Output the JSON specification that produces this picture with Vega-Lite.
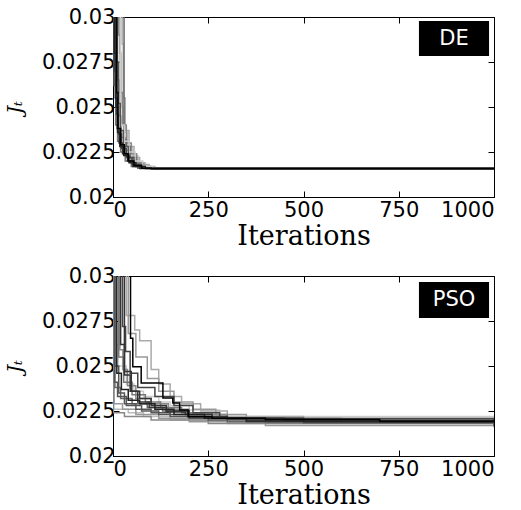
{
  "$schema": "https://vega.github.io/schema/vega-lite/v6.json",
  "background": "white",
  "padding": 5,
  "spacing": 14,
  "config": {
    "view": {"stroke": "black", "strokeWidth": 1},
    "font": "DejaVu Sans",
    "axis": {
      "grid": false, "domainColor": "black", "tickColor": "black", "labelColor": "black", "titleColor": "black",
      "labelFont": "DejaVu Sans", "labelFontSize": 21, "tickSize": -6, "titleFontWeight": "normal"
    }
  },
  "datasets": {
    "curves": [
      {"method":"DE","run":"D01","it":0,"jt":0.04},{"method":"DE","run":"D01","it":18,"jt":0.028},{"method":"DE","run":"D01","it":22,"jt":0.025},{"method":"DE","run":"D01","it":28,"jt":0.0236},{"method":"DE","run":"D01","it":38,"jt":0.0228},{"method":"DE","run":"D01","it":50,"jt":0.0223},{"method":"DE","run":"D01","it":65,"jt":0.0219},{"method":"DE","run":"D01","it":85,"jt":0.0217},{"method":"DE","run":"D01","it":110,"jt":0.02158},{"method":"DE","run":"D01","it":1000,"jt":0.02157},
      {"method":"DE","run":"D02","it":0,"jt":0.04},{"method":"DE","run":"D02","it":12,"jt":0.0265},{"method":"DE","run":"D02","it":16,"jt":0.0245},{"method":"DE","run":"D02","it":22,"jt":0.0233},{"method":"DE","run":"D02","it":32,"jt":0.0226},{"method":"DE","run":"D02","it":45,"jt":0.0221},{"method":"DE","run":"D02","it":65,"jt":0.0217},{"method":"DE","run":"D02","it":90,"jt":0.02158},{"method":"DE","run":"D02","it":1000,"jt":0.02157},
      {"method":"DE","run":"D03","it":0,"jt":0.04},{"method":"DE","run":"D03","it":24,"jt":0.0285},{"method":"DE","run":"D03","it":27,"jt":0.0255},{"method":"DE","run":"D03","it":32,"jt":0.0237},{"method":"DE","run":"D03","it":42,"jt":0.0228},{"method":"DE","run":"D03","it":55,"jt":0.0222},{"method":"DE","run":"D03","it":70,"jt":0.0218},{"method":"DE","run":"D03","it":95,"jt":0.0216},{"method":"DE","run":"D03","it":1000,"jt":0.02157},
      {"method":"DE","run":"D04","it":0,"jt":0.04},{"method":"DE","run":"D04","it":15,"jt":0.029},{"method":"DE","run":"D04","it":19,"jt":0.0258},{"method":"DE","run":"D04","it":25,"jt":0.024},{"method":"DE","run":"D04","it":35,"jt":0.023},{"method":"DE","run":"D04","it":48,"jt":0.0224},{"method":"DE","run":"D04","it":62,"jt":0.0219},{"method":"DE","run":"D04","it":80,"jt":0.0217},{"method":"DE","run":"D04","it":100,"jt":0.02158},{"method":"DE","run":"D04","it":1000,"jt":0.02157},
      {"method":"DE","run":"D05","it":0,"jt":0.04},{"method":"DE","run":"D05","it":3,"jt":0.0262},{"method":"DE","run":"D05","it":7,"jt":0.024},{"method":"DE","run":"D05","it":12,"jt":0.0231},{"method":"DE","run":"D05","it":20,"jt":0.0225},{"method":"DE","run":"D05","it":32,"jt":0.022},{"method":"DE","run":"D05","it":48,"jt":0.0217},{"method":"DE","run":"D05","it":65,"jt":0.0216},{"method":"DE","run":"D05","it":1000,"jt":0.02157},
      {"method":"DE","run":"D06","it":0,"jt":0.04},{"method":"DE","run":"D06","it":29,"jt":0.0232},{"method":"DE","run":"D06","it":35,"jt":0.0228},{"method":"DE","run":"D06","it":45,"jt":0.0222},{"method":"DE","run":"D06","it":60,"jt":0.0218},{"method":"DE","run":"D06","it":80,"jt":0.0216},{"method":"DE","run":"D06","it":110,"jt":0.02157},{"method":"DE","run":"D06","it":1000,"jt":0.02157},
      {"method":"DE","run":"D07","it":0,"jt":0.04},{"method":"DE","run":"D07","it":20,"jt":0.024},{"method":"DE","run":"D07","it":30,"jt":0.0231},{"method":"DE","run":"D07","it":42,"jt":0.0225},{"method":"DE","run":"D07","it":58,"jt":0.022},{"method":"DE","run":"D07","it":78,"jt":0.0217},{"method":"DE","run":"D07","it":105,"jt":0.02158},{"method":"DE","run":"D07","it":1000,"jt":0.02157},
      {"method":"DE","run":"D08","it":0,"jt":0.04},{"method":"DE","run":"D08","it":10,"jt":0.0275},{"method":"DE","run":"D08","it":14,"jt":0.0252},{"method":"DE","run":"D08","it":19,"jt":0.0237},{"method":"DE","run":"D08","it":27,"jt":0.0228},{"method":"DE","run":"D08","it":40,"jt":0.0222},{"method":"DE","run":"D08","it":55,"jt":0.0218},{"method":"DE","run":"D08","it":75,"jt":0.0216},{"method":"DE","run":"D08","it":1000,"jt":0.02157},
      {"method":"DE","run":"D09","it":0,"jt":0.04},{"method":"DE","run":"D09","it":5,"jt":0.027},{"method":"DE","run":"D09","it":9,"jt":0.0246},{"method":"DE","run":"D09","it":14,"jt":0.0235},{"method":"DE","run":"D09","it":22,"jt":0.0227},{"method":"DE","run":"D09","it":35,"jt":0.0222},{"method":"DE","run":"D09","it":50,"jt":0.0218},{"method":"DE","run":"D09","it":70,"jt":0.0216},{"method":"DE","run":"D09","it":1000,"jt":0.02157},
      {"method":"DE","run":"D10","it":0,"jt":0.04},{"method":"DE","run":"D10","it":6,"jt":0.0255},{"method":"DE","run":"D10","it":11,"jt":0.0238},{"method":"DE","run":"D10","it":16,"jt":0.023},{"method":"DE","run":"D10","it":25,"jt":0.0224},{"method":"DE","run":"D10","it":38,"jt":0.022},{"method":"DE","run":"D10","it":52,"jt":0.0217},{"method":"DE","run":"D10","it":70,"jt":0.02159},{"method":"DE","run":"D10","it":1000,"jt":0.02157},
      {"method":"DE","run":"D11","it":0,"jt":0.04},{"method":"DE","run":"D11","it":4,"jt":0.028},{"method":"DE","run":"D11","it":8,"jt":0.025},{"method":"DE","run":"D11","it":12,"jt":0.0236},{"method":"DE","run":"D11","it":18,"jt":0.0228},{"method":"DE","run":"D11","it":28,"jt":0.0223},{"method":"DE","run":"D11","it":42,"jt":0.0219},{"method":"DE","run":"D11","it":60,"jt":0.0217},{"method":"DE","run":"D11","it":85,"jt":0.02158},{"method":"DE","run":"D11","it":1000,"jt":0.02157},
      {"method":"DE","run":"D12","it":0,"jt":0.04},{"method":"DE","run":"D12","it":8,"jt":0.03},{"method":"DE","run":"D12","it":10,"jt":0.0258},{"method":"DE","run":"D12","it":13,"jt":0.0238},{"method":"DE","run":"D12","it":20,"jt":0.0229},{"method":"DE","run":"D12","it":30,"jt":0.0224},{"method":"DE","run":"D12","it":40,"jt":0.022},{"method":"DE","run":"D12","it":55,"jt":0.02175},{"method":"DE","run":"D12","it":75,"jt":0.0216},{"method":"DE","run":"D12","it":100,"jt":0.02157},{"method":"DE","run":"D12","it":1000,"jt":0.02157},

      {"method":"PSO","run":"P01","it":0,"jt":0.04},{"method":"PSO","run":"P01","it":6,"jt":0.0262},{"method":"PSO","run":"P01","it":14,"jt":0.025},{"method":"PSO","run":"P01","it":35,"jt":0.024},{"method":"PSO","run":"P01","it":55,"jt":0.0236},{"method":"PSO","run":"P01","it":80,"jt":0.0233},{"method":"PSO","run":"P01","it":120,"jt":0.023},{"method":"PSO","run":"P01","it":150,"jt":0.0228},{"method":"PSO","run":"P01","it":200,"jt":0.02255},{"method":"PSO","run":"P01","it":280,"jt":0.0222},{"method":"PSO","run":"P01","it":1000,"jt":0.0217},
      {"method":"PSO","run":"P02","it":0,"jt":0.04},{"method":"PSO","run":"P02","it":2,"jt":0.0226},{"method":"PSO","run":"P02","it":40,"jt":0.0224},{"method":"PSO","run":"P02","it":80,"jt":0.0222},{"method":"PSO","run":"P02","it":150,"jt":0.022},{"method":"PSO","run":"P02","it":300,"jt":0.0218},{"method":"PSO","run":"P02","it":1000,"jt":0.02165},
      {"method":"PSO","run":"P03","it":0,"jt":0.04},{"method":"PSO","run":"P03","it":35,"jt":0.0278},{"method":"PSO","run":"P03","it":57,"jt":0.027},{"method":"PSO","run":"P03","it":70,"jt":0.0264},{"method":"PSO","run":"P03","it":100,"jt":0.0248},{"method":"PSO","run":"P03","it":120,"jt":0.024},{"method":"PSO","run":"P03","it":150,"jt":0.0233},{"method":"PSO","run":"P03","it":180,"jt":0.0229},{"method":"PSO","run":"P03","it":230,"jt":0.0225},{"method":"PSO","run":"P03","it":300,"jt":0.0222},{"method":"PSO","run":"P03","it":500,"jt":0.0219},{"method":"PSO","run":"P03","it":1000,"jt":0.02175},
      {"method":"PSO","run":"P04","it":0,"jt":0.04},{"method":"PSO","run":"P04","it":3,"jt":0.0229},{"method":"PSO","run":"P04","it":25,"jt":0.0226},{"method":"PSO","run":"P04","it":60,"jt":0.0223},{"method":"PSO","run":"P04","it":120,"jt":0.0221},{"method":"PSO","run":"P04","it":200,"jt":0.0219},{"method":"PSO","run":"P04","it":400,"jt":0.0217},{"method":"PSO","run":"P04","it":1000,"jt":0.02165},
      {"method":"PSO","run":"P05","it":0,"jt":0.04},{"method":"PSO","run":"P05","it":40,"jt":0.0268},{"method":"PSO","run":"P05","it":60,"jt":0.0255},{"method":"PSO","run":"P05","it":90,"jt":0.0243},{"method":"PSO","run":"P05","it":120,"jt":0.0236},{"method":"PSO","run":"P05","it":160,"jt":0.023},{"method":"PSO","run":"P05","it":210,"jt":0.0226},{"method":"PSO","run":"P05","it":270,"jt":0.0223},{"method":"PSO","run":"P05","it":350,"jt":0.0221},{"method":"PSO","run":"P05","it":600,"jt":0.0219},{"method":"PSO","run":"P05","it":1000,"jt":0.0218},
      {"method":"PSO","run":"P06","it":0,"jt":0.04},{"method":"PSO","run":"P06","it":18,"jt":0.0259},{"method":"PSO","run":"P06","it":26,"jt":0.0248},{"method":"PSO","run":"P06","it":38,"jt":0.0239},{"method":"PSO","run":"P06","it":60,"jt":0.0232},{"method":"PSO","run":"P06","it":100,"jt":0.0229},{"method":"PSO","run":"P06","it":145,"jt":0.0226},{"method":"PSO","run":"P06","it":200,"jt":0.0223},{"method":"PSO","run":"P06","it":300,"jt":0.0221},{"method":"PSO","run":"P06","it":1000,"jt":0.0218},
      {"method":"PSO","run":"P07","it":0,"jt":0.04},{"method":"PSO","run":"P07","it":1,"jt":0.0224},{"method":"PSO","run":"P07","it":30,"jt":0.0222},{"method":"PSO","run":"P07","it":100,"jt":0.022},{"method":"PSO","run":"P07","it":250,"jt":0.0218},{"method":"PSO","run":"P07","it":1000,"jt":0.0216},
      {"method":"PSO","run":"P08","it":0,"jt":0.04},{"method":"PSO","run":"P08","it":15,"jt":0.0255},{"method":"PSO","run":"P08","it":28,"jt":0.0241},{"method":"PSO","run":"P08","it":50,"jt":0.0234},{"method":"PSO","run":"P08","it":85,"jt":0.023},{"method":"PSO","run":"P08","it":125,"jt":0.0227},{"method":"PSO","run":"P08","it":180,"jt":0.0224},{"method":"PSO","run":"P08","it":260,"jt":0.0221},{"method":"PSO","run":"P08","it":400,"jt":0.02185},{"method":"PSO","run":"P08","it":1000,"jt":0.02175},
      {"method":"PSO","run":"P09","it":0,"jt":0.04},{"method":"PSO","run":"P09","it":5,"jt":0.0238},{"method":"PSO","run":"P09","it":20,"jt":0.0232},{"method":"PSO","run":"P09","it":50,"jt":0.0229},{"method":"PSO","run":"P09","it":90,"jt":0.0227},{"method":"PSO","run":"P09","it":130,"jt":0.0225},{"method":"PSO","run":"P09","it":200,"jt":0.0222},{"method":"PSO","run":"P09","it":300,"jt":0.0219},{"method":"PSO","run":"P09","it":1000,"jt":0.02165},
      {"method":"PSO","run":"P10","it":0,"jt":0.04},{"method":"PSO","run":"P10","it":8,"jt":0.025},{"method":"PSO","run":"P10","it":15,"jt":0.0235},{"method":"PSO","run":"P10","it":30,"jt":0.0229},{"method":"PSO","run":"P10","it":60,"jt":0.0226},{"method":"PSO","run":"P10","it":100,"jt":0.0224},{"method":"PSO","run":"P10","it":150,"jt":0.0222},{"method":"PSO","run":"P10","it":250,"jt":0.022},{"method":"PSO","run":"P10","it":500,"jt":0.02185},{"method":"PSO","run":"P10","it":1000,"jt":0.0218},
      {"method":"PSO","run":"P11","it":0,"jt":0.04},{"method":"PSO","run":"P11","it":4,"jt":0.0241},{"method":"PSO","run":"P11","it":12,"jt":0.0233},{"method":"PSO","run":"P11","it":35,"jt":0.0228},{"method":"PSO","run":"P11","it":75,"jt":0.0225},{"method":"PSO","run":"P11","it":120,"jt":0.0223},{"method":"PSO","run":"P11","it":200,"jt":0.0221},{"method":"PSO","run":"P11","it":350,"jt":0.0219},{"method":"PSO","run":"P11","it":1000,"jt":0.02175},
      {"method":"PSO","run":"P12","it":0,"jt":0.04},{"method":"PSO","run":"P12","it":25,"jt":0.0272},{"method":"PSO","run":"P12","it":33,"jt":0.0258},{"method":"PSO","run":"P12","it":45,"jt":0.0246},{"method":"PSO","run":"P12","it":65,"jt":0.0238},{"method":"PSO","run":"P12","it":110,"jt":0.0233},{"method":"PSO","run":"P12","it":160,"jt":0.0228},{"method":"PSO","run":"P12","it":210,"jt":0.0224},{"method":"PSO","run":"P12","it":280,"jt":0.0221},{"method":"PSO","run":"P12","it":450,"jt":0.02195},{"method":"PSO","run":"P12","it":1000,"jt":0.0219},
      {"method":"PSO","run":"P13","it":0,"jt":0.04},{"method":"PSO","run":"P13","it":20,"jt":0.0262},{"method":"PSO","run":"P13","it":30,"jt":0.0245},{"method":"PSO","run":"P13","it":45,"jt":0.0236},{"method":"PSO","run":"P13","it":70,"jt":0.0232},{"method":"PSO","run":"P13","it":100,"jt":0.0228},{"method":"PSO","run":"P13","it":140,"jt":0.0225},{"method":"PSO","run":"P13","it":200,"jt":0.0222},{"method":"PSO","run":"P13","it":300,"jt":0.02205},{"method":"PSO","run":"P13","it":1000,"jt":0.022},
      {"method":"PSO","run":"P14","it":0,"jt":0.04},{"method":"PSO","run":"P14","it":30,"jt":0.0247},{"method":"PSO","run":"P14","it":48,"jt":0.0236},{"method":"PSO","run":"P14","it":65,"jt":0.023},{"method":"PSO","run":"P14","it":95,"jt":0.0227},{"method":"PSO","run":"P14","it":140,"jt":0.02245},{"method":"PSO","run":"P14","it":190,"jt":0.0223},{"method":"PSO","run":"P14","it":260,"jt":0.0221},{"method":"PSO","run":"P14","it":500,"jt":0.0219},{"method":"PSO","run":"P14","it":1000,"jt":0.0219},
      {"method":"PSO","run":"P15","it":0,"jt":0.04},{"method":"PSO","run":"P15","it":10,"jt":0.0246},{"method":"PSO","run":"P15","it":22,"jt":0.0237},{"method":"PSO","run":"P15","it":40,"jt":0.0231},{"method":"PSO","run":"P15","it":70,"jt":0.0229},{"method":"PSO","run":"P15","it":110,"jt":0.0226},{"method":"PSO","run":"P15","it":160,"jt":0.0223},{"method":"PSO","run":"P15","it":240,"jt":0.0221},{"method":"PSO","run":"P15","it":350,"jt":0.02195},{"method":"PSO","run":"P15","it":700,"jt":0.0219},{"method":"PSO","run":"P15","it":1000,"jt":0.0219},
      {"method":"PSO","run":"P16","it":0,"jt":0.04},{"method":"PSO","run":"P16","it":46,"jt":0.02654},{"method":"PSO","run":"P16","it":52,"jt":0.02496},{"method":"PSO","run":"P16","it":74,"jt":0.02406},{"method":"PSO","run":"P16","it":131,"jt":0.02322},{"method":"PSO","run":"P16","it":157,"jt":0.02294},{"method":"PSO","run":"P16","it":175,"jt":0.02256},{"method":"PSO","run":"P16","it":197,"jt":0.02218},{"method":"PSO","run":"P16","it":260,"jt":0.0221},{"method":"PSO","run":"P16","it":400,"jt":0.02203},{"method":"PSO","run":"P16","it":700,"jt":0.02195},{"method":"PSO","run":"P16","it":1000,"jt":0.02195}
    ]
  },
  "resolve": {"scale": {"color": "shared"}},
  "vconcat": [
    {
      "width": 381, "height": 180,
      "resolve": {"axis": {"x": "independent", "y": "independent"}},
      "layer": [
        {
          "data": {"name": "curves"},
          "transform": [{"filter": "datum.method === 'DE'"}],
          "mark": {"type": "line", "interpolate": "step-after", "clip": true, "strokeWidth": 1.5},
          "encoding": {
            "x": {"field": "it", "type": "quantitative", "scale": {"domain": [0, 1000], "nice": false},
                  "axis": {"values": [0, 250, 500, 750, 1000], "format": "d", "title": "Iterations", "titleFont": "DejaVu Serif", "titleFontSize": 27, "labelPadding": 8, "titlePadding": 3}},
            "y": {"field": "jt", "type": "quantitative", "scale": {"domain": [0.02, 0.03], "nice": false, "zero": false},
                  "axis": {"values": [0.02, 0.0225, 0.025, 0.0275, 0.03], "format": ".3~g", "title": "Jₜ", "titleFont": "DejaVu Serif", "titleFontStyle": "italic", "titleFontSize": 20, "labelPadding": 4, "titlePadding": 16}},
            "color": {"field": "run", "type": "nominal", "legend": null,
                      "scale": {"domain": ["D01","D02","D03","D04","D05","D06","D07","D08","D09","D10","D11","D12","P01","P02","P03","P04","P05","P06","P07","P08","P09","P10","P11","P12","P13","P14","P15","P16"],
                                "range": ["#bbbbbb","#999999","#aaaaaa","#888888","#777777","#666666","#cccccc","#555555","#444444","#333333","#222222","#000000","#cccccc","#bbbbbb","#aaaaaa","#999999","#999999","#888888","#888888","#777777","#666666","#555555","#555555","#444444","#333333","#333333","#222222","#000000"]}}
          }
        },
        {
          "data": {"values": [{}]},
          "mark": {"type": "rect", "color": "black"},
          "encoding": {
            "x": {"datum": 803, "type": "quantitative", "axis": {"orient": "top", "labels": false, "title": null, "domain": false, "values": [0, 250, 500, 750, 1000]}},
            "x2": {"datum": 987},
            "y": {"datum": 0.02978, "type": "quantitative", "axis": {"orient": "right", "labels": false, "title": null, "domain": false, "values": [0.02, 0.0225, 0.025, 0.0275, 0.03]}},
            "y2": {"datum": 0.02783}
          }
        },
        {
          "data": {"values": [{}]},
          "mark": {"type": "text", "color": "white", "font": "DejaVu Sans", "fontSize": 21, "text": "DE", "align": "center", "baseline": "middle"},
          "encoding": {
            "x": {"datum": 895, "type": "quantitative", "axis": null},
            "y": {"datum": 0.0288, "type": "quantitative", "axis": null}
          }
        }
      ]
    },
    {
      "width": 381, "height": 180,
      "resolve": {"axis": {"x": "independent", "y": "independent"}},
      "layer": [
        {
          "data": {"name": "curves"},
          "transform": [{"filter": "datum.method === 'PSO'"}],
          "mark": {"type": "line", "interpolate": "step-after", "clip": true, "strokeWidth": 1.5},
          "encoding": {
            "x": {"field": "it", "type": "quantitative", "scale": {"domain": [0, 1000], "nice": false},
                  "axis": {"values": [0, 250, 500, 750, 1000], "format": "d", "title": "Iterations", "titleFont": "DejaVu Serif", "titleFontSize": 27, "labelPadding": 8, "titlePadding": 3}},
            "y": {"field": "jt", "type": "quantitative", "scale": {"domain": [0.02, 0.03], "nice": false, "zero": false},
                  "axis": {"values": [0.02, 0.0225, 0.025, 0.0275, 0.03], "format": ".3~g", "title": "Jₜ", "titleFont": "DejaVu Serif", "titleFontStyle": "italic", "titleFontSize": 20, "labelPadding": 4, "titlePadding": 16}},
            "color": {"field": "run", "type": "nominal", "legend": null,
                      "scale": {"domain": ["D01","D02","D03","D04","D05","D06","D07","D08","D09","D10","D11","D12","P01","P02","P03","P04","P05","P06","P07","P08","P09","P10","P11","P12","P13","P14","P15","P16"],
                                "range": ["#bbbbbb","#999999","#aaaaaa","#888888","#777777","#666666","#cccccc","#555555","#444444","#333333","#222222","#000000","#cccccc","#bbbbbb","#aaaaaa","#999999","#999999","#888888","#888888","#777777","#666666","#555555","#555555","#444444","#333333","#333333","#222222","#000000"]}}
          }
        },
        {
          "data": {"values": [{}]},
          "mark": {"type": "rect", "color": "black"},
          "encoding": {
            "x": {"datum": 803, "type": "quantitative", "axis": {"orient": "top", "labels": false, "title": null, "domain": false, "values": [0, 250, 500, 750, 1000]}},
            "x2": {"datum": 987},
            "y": {"datum": 0.02967, "type": "quantitative", "axis": {"orient": "right", "labels": false, "title": null, "domain": false, "values": [0.02, 0.0225, 0.025, 0.0275, 0.03]}},
            "y2": {"datum": 0.02767}
          }
        },
        {
          "data": {"values": [{}]},
          "mark": {"type": "text", "color": "white", "font": "DejaVu Sans", "fontSize": 21, "text": "PSO", "align": "center", "baseline": "middle"},
          "encoding": {
            "x": {"datum": 895, "type": "quantitative", "axis": null},
            "y": {"datum": 0.02867, "type": "quantitative", "axis": null}
          }
        }
      ]
    }
  ]
}
